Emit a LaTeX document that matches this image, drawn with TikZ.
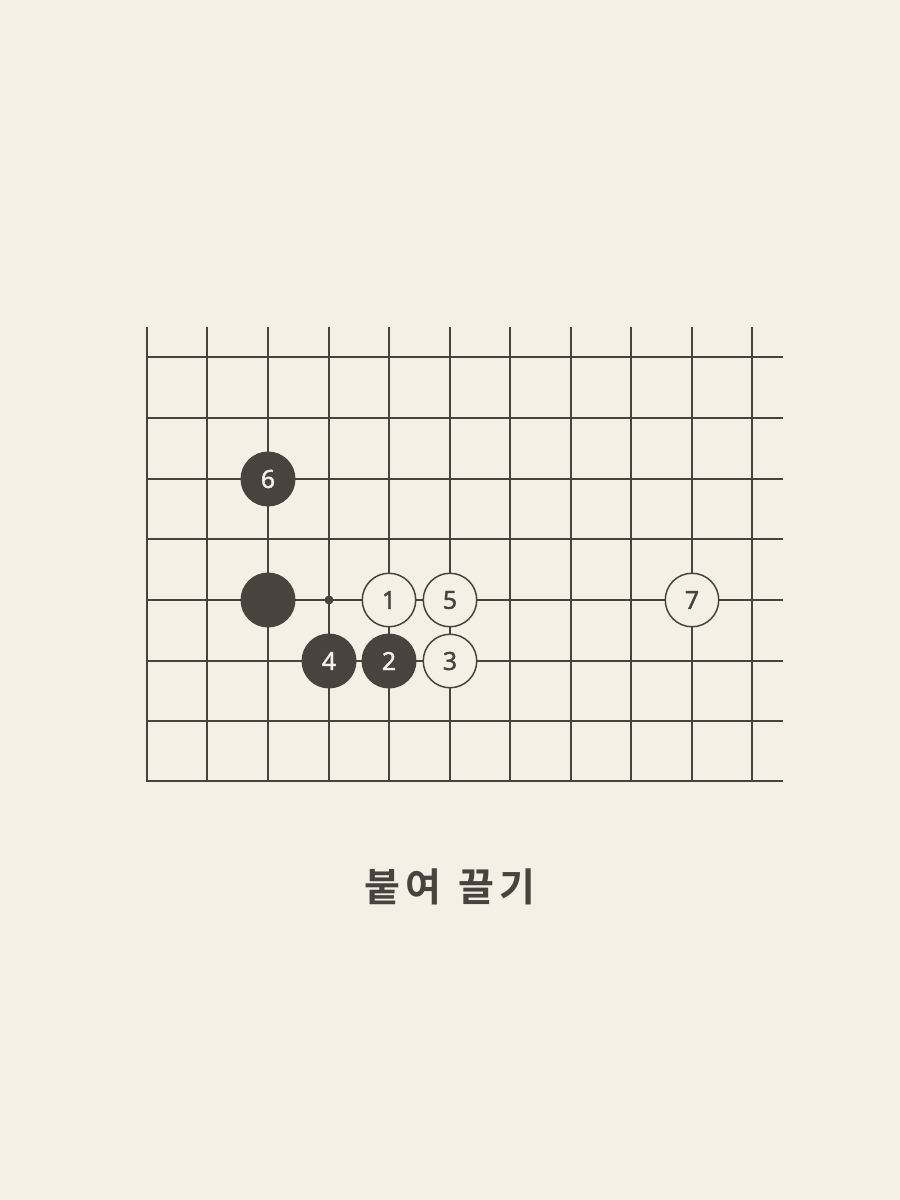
\documentclass[tikz,border=0pt]{standalone}
\usepackage{fontspec}
\setmainfont{Noto Sans}
\newfontfamily\numfont[FakeBold=1.5]{Noto Sans}
\newfontfamily\krfont{Noto Sans CJK KR Bold}
\definecolor{paper}{HTML}{F5EFE5}
\definecolor{ink}{HTML}{4A433D}

\begin{document}
\begin{tikzpicture}[
  x=1pt, y=-1pt,
  grid/.style={draw=ink,line width=1.4pt},
  black/.style={circle,fill=ink,minimum size=55pt,inner sep=0pt,text=paper,font=\numfont\fontsize{25}{25}\selectfont},
  white/.style={circle,draw=ink,line width=1.5pt,fill=paper,minimum size=53.5pt,inner sep=0pt,text=ink,font=\numfont\fontsize{25}{25}\selectfont}
]
\fill[paper] (0,0) rectangle (900,1200);
\useasboundingbox (0,0) rectangle (900,1200);
% board
\foreach \x in {147,207,268,329,389,450,510,571,631,692,752} {
  \draw[grid] (\x,327) -- (\x,781);
}
\foreach \y in {357,418,479,539,600,661,721} {
  \draw[grid] (147,\y) -- (783,\y);
}
\draw[grid] (146.3,781) -- (783,781);
% stones
\node[black] (base) at (268,600) {};
\fill[ink] (329,600) circle (4.5pt) coordinate (dot);
\node[white] (m1) at (389,600) {1};
\node[black] (m2) at (389,661) {2};
\node[white] (m3) at (450,661) {3};
\node[black] (m4) at (329,661) {4};
\node[white] (m5) at (450,600) {5};
\node[black] (m6) at (268,479) {6};
\node[white] (m7) at (692,600) {7};
% caption
\node[text=ink,font=\krfont\fontsize{39}{39}\selectfont] (title) at (450,887) {붙\kern5pt 여\hspace{17pt}끌\kern5pt 기};
\end{tikzpicture}
\end{document}
